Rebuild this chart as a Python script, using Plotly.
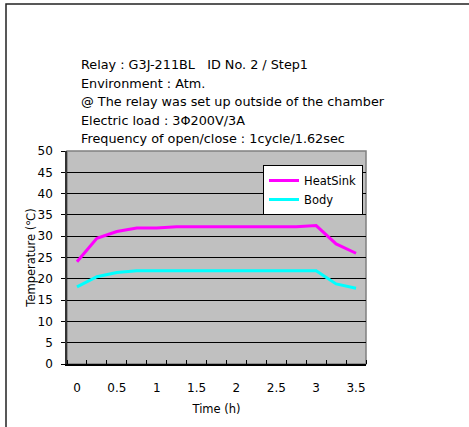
import plotly.graph_objects as go

# Elapsed time (h), one reading every 15 minutes
time_h = [0, 0.25, 0.5, 0.75, 1.0, 1.25, 1.5, 1.75, 2.0, 2.25, 2.5, 2.75, 3.0, 3.25, 3.5]
# Temperatures (°C)
heatsink = [24.0, 29.5, 31.1, 31.9, 31.9, 32.2, 32.2, 32.2, 32.2, 32.2, 32.2, 32.2, 32.5, 28.2, 26.0]
body = [18.1, 20.5, 21.5, 21.9, 21.9, 21.9, 21.9, 21.9, 21.9, 21.9, 21.9, 21.9, 21.9, 18.8, 17.8]

x_ticks = [0, 0.5, 1, 1.5, 2, 2.5, 3, 3.5]
x_labels = ["0", "0.5", "1", "1.5", "2", "2.5", "3", "3.5"]
y_ticks = list(range(0, 51, 5))

header_lines = [
    "Relay : G3J-211BL\u00a0\u00a0\u00a0ID No. 2 / Step1",
    "Environment : Atm.",
    "@ The relay was set up outside of the chamber",
    "Electric load : 3\u03a6200V/3A",
    "Frequency of open/close : 1cycle/1.62sec",
]

W, H = 469, 427
L, R, T, B = 67, 366, 151, 364
FONT = "DejaVu Sans"


def px_x(px):
    return (px - L) / (R - L)


def px_y(py):
    return (B - py) / (B - T)


fig = go.Figure()
fig.add_trace(go.Scatter(x=time_h, y=heatsink, mode="lines", name="HeatSink",
                         line=dict(color="#FF00FF", width=3)))
fig.add_trace(go.Scatter(x=time_h, y=body, mode="lines", name="Body",
                         line=dict(color="#00FFFF", width=3)))

annotations = []
for i, txt in enumerate(header_lines):
    annotations.append(dict(
        text=txt, xref="paper", yref="paper", x=px_x(79), y=px_y(65 + i * 18.4),
        xanchor="left", yanchor="middle", showarrow=False,
        font=dict(family=FONT, size=12.8, color="black"),
    ))

shapes = [
    # gray frame around the plotting area
    dict(type="rect", xref="paper", yref="paper", x0=0, x1=1, y0=0, y1=1,
         line=dict(color="#808080", width=1.5), layer="below"),
    # outer chart border
    dict(type="rect", xref="paper", yref="paper",
         x0=px_x(6), x1=px_x(520), y0=px_y(480), y1=px_y(4),
         line=dict(color="#222222", width=1.5)),
]

fig.update_layout(
    width=W, height=H,
    margin=dict(l=L, r=W - R, t=T, b=H - B),
    paper_bgcolor="white",
    plot_bgcolor="#C0C0C0",
    font=dict(family=FONT, size=11, color="black"),
    showlegend=True,
    legend=dict(x=px_x(263), y=px_y(165), xanchor="left", yanchor="top",
                bgcolor="white", bordercolor="black", borderwidth=1,
                font=dict(family=FONT, size=11.5), tracegroupgap=0,
                itemwidth=30),
    annotations=annotations,
    shapes=shapes,
    xaxis=dict(
        range=[-0.125, 3.625], tickmode="array", tickvals=x_ticks, ticktext=x_labels,
        ticks="", showgrid=False, zeroline=False,
        showline=True, linecolor="black", linewidth=1.5,
        ticklabelstandoff=12,
        tickfont=dict(family=FONT, size=12),
        minor=dict(tickmode="linear", tick0=-0.125, dtick=0.25, ticks="inside",
                   ticklen=4, tickcolor="black", showgrid=False),
        title=dict(text="Time (h)", font=dict(family=FONT, size=11.5), standoff=11),
        fixedrange=True,
    ),
    yaxis=dict(
        range=[0, 50], tickmode="array", tickvals=y_ticks,
        ticks="outside", ticklen=4, tickcolor="black",
        ticklabelstandoff=6,
        tickfont=dict(family=FONT, size=12),
        showgrid=True, gridcolor="black", gridwidth=1, zeroline=False,
        showline=True, linecolor="#333333", linewidth=1.5,
        title=dict(text="Temperature (\u2103)", font=dict(family=FONT, size=11.5), standoff=0),
        fixedrange=True,
    ),
)

fig.write_html("out.html")
